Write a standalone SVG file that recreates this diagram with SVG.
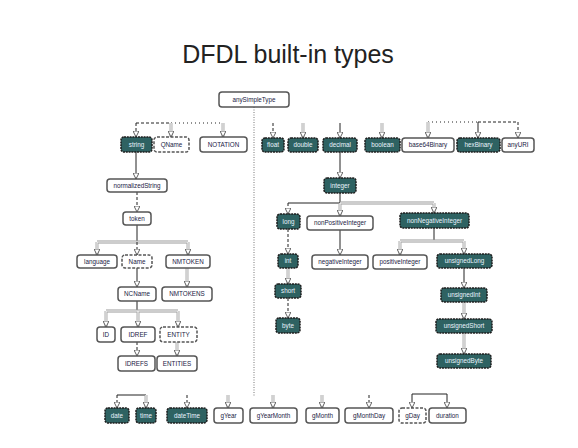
<svg xmlns="http://www.w3.org/2000/svg" width="578" height="448" viewBox="0 0 578 448">
<style>
.dk rect{fill:#2e6262;stroke:#1e1e1e;stroke-width:1.5;stroke-dasharray:2 0.8}
.dk text{fill:#eaf4ff}
.lt rect{fill:#fff;stroke:#555;stroke-width:1.5}
.lt text{fill:#1a1a44}
.ds rect{stroke-dasharray:3 1.5}
text{font-family:"Liberation Sans",Arial,sans-serif;font-size:6.3px;text-anchor:middle}
.title{font-family:"Liberation Sans",Arial,sans-serif;font-size:25px;fill:#222;text-anchor:middle}
.s{fill:none;stroke:#222;stroke-width:1}
.d{fill:none;stroke:#222;stroke-width:1;stroke-dasharray:3 2}
.o{fill:none;stroke:#222;stroke-width:1;stroke-dasharray:1 3}
.g{fill:none;stroke:#9a9a9a;stroke-width:2.8}
.w{fill:none;stroke:#fff;stroke-width:1.1}
.sep{fill:none;stroke:#777;stroke-width:1;stroke-dasharray:1 1.5}
.a{marker-end:url(#ah)}
</style>
<defs>
<marker id="ah" viewBox="0 0 10 10" refX="10" refY="5" markerWidth="6" markerHeight="6" markerUnits="userSpaceOnUse" orient="auto">
<path d="M0,0 L10,5 L0,10 z" fill="#fff" stroke="#444" stroke-width="1.4"/>
</marker>
</defs>
<rect width="578" height="448" fill="#fff"/>
<text class="title" x="288" y="63">DFDL built-in types</text>

<g id="connectors">
<path class="sep" d="M254,107 V396"/>
<path class="d" d="M136,123 H171"/>
<path class="o" d="M171,123 H223"/>
<path class="d a" d="M136,123 V137"/>
<path class="g" d="M171,123 V137"/><path class="w a" d="M171,123 V137"/>
<path class="g" d="M223,123 V137"/><path class="w a" d="M223,123 V137"/>
<path class="s a" d="M136,152 V179"/>
<path class="d a" d="M137,192 V212"/>
<path class="s" d="M137,225 V242"/>
<path class="g" d="M97,242 H188 M97,242 V255 M188,242 V255"/><path class="w" d="M97,242 H188"/>
<path class="w a" d="M97,242 V255"/><path class="w a" d="M188,242 V255"/>
<path class="d a" d="M137,242 V255"/>
<path class="s a" d="M137,268 V287"/>
<path class="g" d="M187,268 V287"/><path class="w a" d="M187,268 V287"/>
<path class="s" d="M137,301 V311"/>
<path class="g" d="M106,311 H178 M106,311 V327 M138,311 V327 M178,311 V327"/><path class="w" d="M106,311 H178"/>
<path class="w a" d="M106,311 V327"/><path class="w a" d="M138,311 V327"/><path class="w a" d="M178,311 V327"/>
<path class="d a" d="M137,342 V356"/>
<path class="g" d="M177,342 V356"/><path class="w a" d="M177,342 V356"/>
<path class="d a" d="M273,123 V138"/>
<path class="g" d="M303,123 V138"/><path class="w a" d="M303,123 V138"/>
<path class="s a" d="M340,123 V138"/>
<path class="g" d="M382,123 V138"/><path class="w a" d="M382,123 V138"/>
<path class="o" d="M428,122 H478"/>
<path class="d" d="M478,122 H518"/>
<path class="g" d="M428,122 V138"/><path class="w a" d="M428,122 V138"/>
<path class="s a" d="M478,122 V138"/>
<path class="d a" d="M518,122 V138"/>
<path class="s a" d="M340,152 V178"/>
<path class="s" d="M340,193 V203 M288,203 H340"/>
<path class="g" d="M340,203 H434 M340,203 V216 M434,203 V213"/><path class="w" d="M340,203 H434"/>
<path class="d a" d="M288,203 V214"/>
<path class="w a" d="M340,203 V216"/><path class="w a" d="M434,203 V213"/>
<path class="s a" d="M340,230 V255"/>
<path class="s" d="M434,228 V241"/>
<path class="g" d="M400,241 H464 M400,241 V255 M464,241 V254"/><path class="w" d="M400,241 H464"/>
<path class="w a" d="M400,241 V255"/><path class="w a" d="M464,241 V254"/>
<path class="d a" d="M288,229 V254"/>
<path class="g" d="M288,268 V284"/><path class="w a" d="M288,268 V284"/>
<path class="d a" d="M288,298 V318"/>
<path class="s a" d="M464,268 V288"/>
<path class="g" d="M464,302 V319"/><path class="w a" d="M464,302 V319"/>
<path class="g" d="M464,333 V354"/><path class="w a" d="M464,333 V354"/>
<path class="s" d="M117,395 H146"/>
<path class="d a" d="M117,395 V408"/>
<path class="g" d="M146,395 V408"/><path class="w a" d="M146,395 V408"/>
<path class="d a" d="M187,395 V408"/>
<path class="g" d="M228,395 V408"/><path class="w a" d="M228,395 V408"/>
<path class="g" d="M273,395 V408"/><path class="w a" d="M273,395 V408"/>
<path class="g" d="M322,395 V408"/><path class="w a" d="M322,395 V408"/>
<path class="d a" d="M369,395 V408"/>
<path class="s" d="M412,394 H447"/>
<path class="s a" d="M412,394 V408"/>
<path class="s a" d="M447,394 V408"/>
</g>

<g id="anySimpleType" class="lt"><rect x="219" y="92" width="70" height="15" rx="3"/><text x="254" y="101.8">anySimpleType</text></g>
<g id="string" class="dk"><rect x="121" y="137" width="31" height="15" rx="3"/><text x="136.5" y="146.8">string</text></g>
<g id="QName" class="lt ds"><rect x="154" y="137" width="35" height="15" rx="3"/><text x="171.5" y="146.8">QName</text></g>
<g id="NOTATION" class="lt"><rect x="200" y="137" width="47" height="15" rx="3"/><text x="223.5" y="146.8">NOTATION</text></g>
<g id="normalizedString" class="lt"><rect x="107" y="179" width="60" height="13" rx="3"/><text x="137" y="187.8">normalizedString</text></g>
<g id="token" class="lt"><rect x="123" y="212" width="28" height="13" rx="3"/><text x="137" y="220.8">token</text></g>
<g id="language" class="lt"><rect x="77" y="255" width="40" height="13" rx="3"/><text x="97" y="263.8">language</text></g>
<g id="Name" class="lt ds"><rect x="122" y="255" width="30" height="13" rx="3"/><text x="137" y="263.8">Name</text></g>
<g id="NMTOKEN" class="lt"><rect x="166" y="255" width="44" height="13" rx="3"/><text x="188" y="263.8">NMTOKEN</text></g>
<g id="NCName" class="lt"><rect x="118" y="287" width="38" height="14" rx="3"/><text x="137" y="296.3">NCName</text></g>
<g id="NMTOKENS" class="lt"><rect x="162" y="287" width="50" height="14" rx="3"/><text x="187" y="296.3">NMTOKENS</text></g>
<g id="ID" class="lt"><rect x="97" y="327" width="18" height="15" rx="3"/><text x="106" y="336.8">ID</text></g>
<g id="IDREF" class="lt"><rect x="121" y="327" width="34" height="15" rx="3"/><text x="138" y="336.8">IDREF</text></g>
<g id="ENTITY" class="lt ds"><rect x="160" y="327" width="37" height="15" rx="3"/><text x="178.5" y="336.8">ENTITY</text></g>
<g id="IDREFS" class="lt"><rect x="118" y="356" width="37" height="15" rx="3"/><text x="136.5" y="365.8">IDREFS</text></g>
<g id="ENTITIES" class="lt"><rect x="157" y="356" width="40" height="15" rx="3"/><text x="177" y="365.8">ENTITIES</text></g>

<g id="float" class="dk"><rect x="262" y="138" width="22" height="14" rx="3"/><text x="273" y="147.3">float</text></g>
<g id="double" class="dk"><rect x="288" y="138" width="30" height="14" rx="3"/><text x="303" y="147.3">double</text></g>
<g id="decimal" class="dk"><rect x="323" y="138" width="34" height="14" rx="3"/><text x="340" y="147.3">decimal</text></g>
<g id="boolean" class="dk"><rect x="365" y="138" width="35" height="14" rx="3"/><text x="382.5" y="147.3">boolean</text></g>
<g id="base64Binary" class="lt"><rect x="402" y="138" width="52" height="14" rx="3"/><text x="428" y="147.3">base64Binary</text></g>
<g id="hexBinary" class="dk"><rect x="457" y="138" width="43" height="14" rx="3"/><text x="478.5" y="147.3">hexBinary</text></g>
<g id="anyURI" class="lt"><rect x="502" y="138" width="32" height="14" rx="3"/><text x="518" y="147.3">anyURI</text></g>
<g id="integer" class="dk"><rect x="324" y="178" width="32" height="15" rx="3"/><text x="340" y="187.8">integer</text></g>
<g id="long" class="dk"><rect x="277" y="214" width="23" height="15" rx="3"/><text x="288.5" y="223.8">long</text></g>
<g id="nonPositiveInteger" class="lt"><rect x="307" y="216" width="66" height="14" rx="3"/><text x="340" y="225.3">nonPositiveInteger</text></g>
<g id="nonNegativeInteger" class="dk"><rect x="400" y="213" width="69" height="15" rx="3"/><text x="434.5" y="222.8">nonNegativeInteger</text></g>
<g id="int" class="dk"><rect x="278" y="254" width="20" height="14" rx="3"/><text x="288" y="263.3">int</text></g>
<g id="negativeInteger" class="lt"><rect x="312" y="255" width="56" height="14" rx="3"/><text x="340" y="264.3">negativeInteger</text></g>
<g id="positiveInteger" class="lt"><rect x="373" y="255" width="54" height="14" rx="3"/><text x="400" y="264.3">positiveInteger</text></g>
<g id="unsignedLong" class="dk"><rect x="437" y="254" width="55" height="14" rx="3"/><text x="464.5" y="263.3">unsignedLong</text></g>
<g id="short" class="dk"><rect x="275" y="284" width="26" height="14" rx="3"/><text x="288" y="293.3">short</text></g>
<g id="byte" class="dk"><rect x="276" y="318" width="24" height="15" rx="3"/><text x="288" y="327.8">byte</text></g>
<g id="unsignedInt" class="dk"><rect x="441" y="288" width="46" height="14" rx="3"/><text x="464" y="297.3">unsignedInt</text></g>
<g id="unsignedShort" class="dk"><rect x="436" y="319" width="56" height="14" rx="3"/><text x="464" y="328.3">unsignedShort</text></g>
<g id="unsignedByte" class="dk"><rect x="437" y="354" width="54" height="14" rx="3"/><text x="464" y="363.3">unsignedByte</text></g>

<g id="date" class="dk"><rect x="105" y="408" width="24" height="15" rx="3"/><text x="117" y="417.8">date</text></g>
<g id="time" class="dk"><rect x="136" y="408" width="20" height="15" rx="3"/><text x="146" y="417.8">time</text></g>
<g id="dateTime" class="dk"><rect x="167" y="408" width="40" height="15" rx="3"/><text x="187" y="417.8">dateTime</text></g>
<g id="gYear" class="lt"><rect x="214" y="408" width="29" height="15" rx="3"/><text x="228.5" y="417.8">gYear</text></g>
<g id="gYearMonth" class="lt"><rect x="250" y="408" width="47" height="15" rx="3"/><text x="273.5" y="417.8">gYearMonth</text></g>
<g id="gMonth" class="lt"><rect x="306" y="408" width="33" height="15" rx="3"/><text x="322.5" y="417.8">gMonth</text></g>
<g id="gMonthDay" class="lt"><rect x="345" y="408" width="48" height="15" rx="3"/><text x="369" y="417.8">gMonthDay</text></g>
<g id="gDay" class="lt ds"><rect x="399" y="408" width="27" height="15" rx="3"/><text x="412.5" y="417.8">gDay</text></g>
<g id="duration" class="lt"><rect x="429" y="408" width="37" height="15" rx="3"/><text x="447.5" y="417.8">duration</text></g>
</svg>
